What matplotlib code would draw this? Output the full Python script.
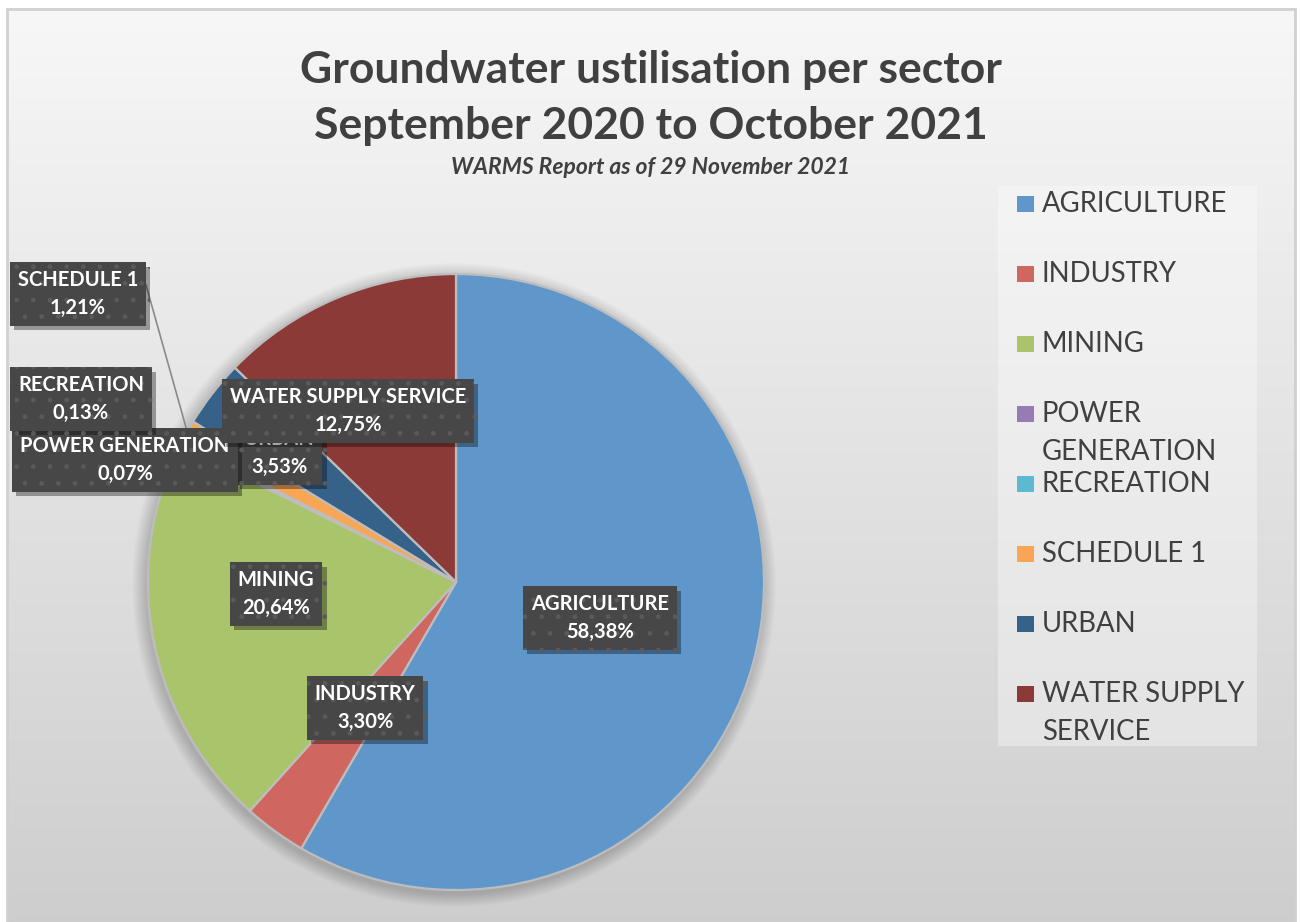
import matplotlib
matplotlib.use('Agg')
import matplotlib.pyplot as plt
import numpy as np
from matplotlib.patches import Rectangle, Circle
from matplotlib.colors import LinearSegmentedColormap
import matplotlib.patheffects as pe

categories = ['AGRICULTURE', 'INDUSTRY', 'MINING', 'POWER GENERATION',
              'RECREATION', 'SCHEDULE 1', 'URBAN', 'WATER SUPPLY SERVICE']
shares = [58.38, 3.30, 20.64, 0.07, 0.13, 1.21, 3.53, 12.75]
colors = ['#6097cb', '#cf6660', '#aac46c', '#977bb4',
          '#5bbad2', '#f9a654', '#366189', '#8b3a37']
legend_labels = ['AGRICULTURE', 'INDUSTRY', 'MINING', 'POWER\nGENERATION',
                 'RECREATION', 'SCHEDULE 1', 'URBAN', 'WATER SUPPLY\nSERVICE']

W, H = 1301, 922
FONT = 'Lato'
TXT = '#404040'

fig = plt.figure(figsize=(W / 100, H / 100), dpi=100)
fig.patch.set_facecolor('white')

ax = fig.add_axes([0, 0, 1, 1])
ax.set_xlim(0, W)
ax.set_ylim(0, H)
ax.axis('off')

def Y(y):
    return H - y

# background gradient inside border
grad = np.linspace(0, 1, 256)[:, None]
cmap = LinearSegmentedColormap.from_list('g', ['#f7f7f7', '#cdcdcd'])
ax.imshow(grad, cmap=cmap, aspect='auto', extent=[7, 1295, Y(940), Y(9)], zorder=0)
ax.add_patch(Rectangle((7, Y(940)), 1288, 931, fill=False, edgecolor='#d0d0d0', lw=2, zorder=1))

cx, cy, R = 456, 582, 308

# soft shadow under pie
for k in range(14):
    ax.add_patch(Circle((cx - 2, Y(cy) - 3), R + 14 - k, facecolor='black',
                        alpha=0.012, edgecolor='none', zorder=1))

explode = [0.013, 0, 0, 0, 0, 0, 0, 0]
wedges, _ = ax.pie(shares, colors=colors, startangle=90, counterclock=False,
                   center=(cx, Y(cy)), radius=R, explode=explode,
                   wedgeprops=dict(edgecolor='#bdbdbd', linewidth=1.6))
for w in wedges:
    w.set_zorder(2)
ax.set_xlim(0, W)
ax.set_ylim(0, H)
ax.set_aspect('equal')
ax.axis('off')

# data labels
label_pos = {
    'AGRICULTURE': (600, 618),
    'INDUSTRY': (365, 708),
    'MINING': (276, 594),
    'POWER GENERATION': (125, 460),
    'RECREATION': (81, 399),
    'SCHEDULE 1': (78, 294),
    'URBAN': (279, 453),
    'WATER SUPPLY SERVICE': (348, 411),
}
label_z = {'URBAN': 5}

for i, (cat, val) in enumerate(zip(categories, shares)):
    x, y = label_pos[cat]
    s = cat + '\n' + ('%.2f' % val).replace('.', ',') + '%'
    t = ax.text(x, Y(y), s, ha='center', va='center', color='white',
                fontsize=14.5, fontweight='bold', family=FONT, linespacing=1.45,
                zorder=label_z.get(cat, 6 + i),
                bbox=dict(boxstyle='square,pad=0.4', facecolor='#474747',
                          edgecolor='#5a5a5a', lw=0, hatch='.'))
    t.get_bbox_patch().set_path_effects([
        pe.SimplePatchShadow(offset=(3, -3), shadow_rgbFace='black', alpha=0.35),
        pe.Normal()])

# leader line for SCHEDULE 1
w5 = wedges[5]
mid = np.deg2rad((w5.theta1 + w5.theta2) / 2)
ex = cx + R * np.cos(mid)
ey = Y(cy) + R * np.sin(mid)
ax.plot([146, ex], [Y(285), ey], color='#8a8a8a', lw=1.2, zorder=3)

# title
ax.text(651, Y(70), 'Groundwater ustilisation per sector', ha='center', va='center',
        fontsize=32, fontweight='bold', family=FONT, color=TXT, zorder=4)
ax.text(651, Y(126), 'September 2020 to October 2021', ha='center', va='center',
        fontsize=32, fontweight='bold', family=FONT, color=TXT, zorder=4)
ax.text(651, Y(167), 'WARMS Report as of 29 November 2021', ha='center', va='center',
        fontsize=16.5, fontweight='bold', fontstyle='italic', family=FONT, color=TXT, zorder=4)

# legend
ax.add_patch(Rectangle((998, Y(746)), 259, 560, facecolor='white', alpha=0.35,
                       edgecolor='none', zorder=3))
for i, (lab, col) in enumerate(zip(legend_labels, colors)):
    yc = 204 + 70 * i
    ax.add_patch(Rectangle((1017, Y(yc + 8)), 17, 16, facecolor=col, edgecolor='none', zorder=4))
    for j, line in enumerate(lab.split('\n')):
        ax.text(1042, Y(yc + 38 * j), line, ha='left', va='center', fontsize=19.8,
                family=FONT, color=TXT, zorder=4)

fig.savefig('out.png', dpi=100, facecolor=fig.get_facecolor())
